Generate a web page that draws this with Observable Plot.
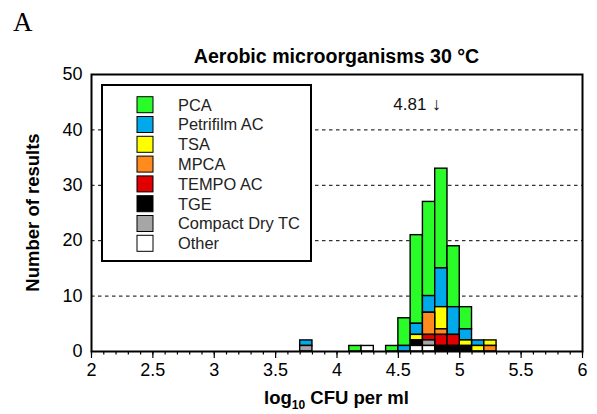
<!DOCTYPE html>
<html>
<head>
<meta charset="utf-8">
<script src="https://cdn.jsdelivr.net/npm/d3@7"></script>
<script src="https://cdn.jsdelivr.net/npm/@observablehq/plot@0.6"></script>
<style>
  html, body { margin: 0; padding: 0; background: #fff; }
  #chart { width: 597px; height: 414px; }
  svg { font-family: "Liberation Sans", Arial, sans-serif; }
</style>
</head>
<body>
<div id="chart"></div>
<script>
// ---- Data (counts per 0.1 log bin, bin start values) ----
const binStarts   = [3.7, 4.1, 4.2, 4.4, 4.5, 4.6, 4.7, 4.8, 4.9, 5.0, 5.1, 5.2];
const binWidth    = 0.1;
const methods     = ["PCA", "Petrifilm AC", "TSA", "MPCA", "TEMPO AC", "TGE", "Compact Dry TC", "Other"];
const methodColors = ["#2afc2a", "#00a9e9", "#ffff00", "#ff8a1e", "#e00000", "#000000", "#a6a6a6", "#ffffff"];
const stackOrder  = ["Other", "Compact Dry TC", "TGE", "TEMPO AC", "MPCA", "TSA", "Petrifilm AC", "PCA"];

const countsPCA       = [0, 1, 0, 1, 5, 16, 17, 18, 11, 4, 0, 0];
const countsPetrifilm = [1, 0, 0, 0, 1, 2, 3, 7, 5, 2, 1, 0];
const countsTSA       = [0, 0, 0, 0, 0, 1, 0, 4, 0, 1, 1, 1];
const countsMPCA      = [0, 0, 0, 0, 0, 0, 4, 1, 0, 0, 0, 1];
const countsTEMPO     = [0, 0, 0, 0, 0, 0, 1, 2, 2, 0, 0, 0];
const countsTGE       = [0, 0, 0, 0, 0, 1, 0, 1, 1, 1, 0, 0];
const countsCompact   = [1, 0, 0, 0, 0, 0, 1, 0, 0, 0, 0, 0];
const countsOther     = [0, 0, 1, 0, 0, 1, 1, 0, 0, 0, 0, 0];

const xMajorTicks = [2, 2.5, 3, 3.5, 4, 4.5, 5, 5.5, 6];
const xMinorTicks = d3.range(20, 61).map(v => v / 10);
const yTicks      = [0, 10, 20, 30, 40, 50];
const gridValues  = [10, 20, 30, 40];
const meanValue   = 4.81;
const meanLabelY  = 44.6;

// ---- Build long table ----
const seriesCounts = {
  "PCA": countsPCA, "Petrifilm AC": countsPetrifilm, "TSA": countsTSA, "MPCA": countsMPCA,
  "TEMPO AC": countsTEMPO, "TGE": countsTGE, "Compact Dry TC": countsCompact, "Other": countsOther
};
const table = [];
for (const m of methods) {
  seriesCounts[m].forEach((c, i) => {
    if (c > 0) table.push({start: binStarts[i], end: +(binStarts[i] + binWidth).toFixed(2), method: m, count: c});
  });
}

const W = 597, H = 414;
const mL = 91, mR = 15, mT = 74, mB = 63;

const svg = Plot.plot({
  width: W, height: H,
  marginLeft: mL, marginRight: mR, marginTop: mT, marginBottom: mB,
  style: {fontFamily: "'Liberation Sans', Arial, sans-serif", background: "#fff", color: "#000"},
  x: {domain: [2, 6], axis: null},
  y: {domain: [0, 50], axis: null},
  color: {domain: methods, range: methodColors},
  marks: [
    Plot.ruleY(gridValues, {stroke: "#000", strokeWidth: 1, strokeDasharray: "3.5,3.5"}),
    Plot.rectY(table, {
      x1: "start", x2: "end", y: "count", z: "method", fill: "method",
      order: stackOrder, stroke: "#000", strokeWidth: 1.4
    }),
    Plot.frame({stroke: "#000", strokeWidth: 2}),
    Plot.axisX({ticks: xMinorTicks, tickSize: 3.5, tickFormat: () => "", strokeWidth: 1.2}),
    Plot.axisX({ticks: xMajorTicks, tickSize: 7, tickPadding: 5, strokeWidth: 1.2,
      tickFormat: d3.format("~g"), fontSize: 18, label: null, color: "#000"}),
    Plot.axisY({ticks: yTicks, tickSize: 0, tickPadding: 9, fontSize: 18, label: null,
      tickFormat: d3.format("d")}),
    Plot.text([meanValue], {x: d => d, y: meanLabelY, text: () => "↓", fontSize: 18, textAnchor: "middle", fill: "#111"}),
    Plot.text([meanValue], {x: d => d, y: meanLabelY, text: d => String(d), dx: -10, fontSize: 17, textAnchor: "end", fill: "#111"})
  ]
});
document.getElementById("chart").appendChild(svg);

// ---- Decorations: titles, axis labels, legend ----
const s = d3.select(svg);
s.append("text").attr("x", 13).attr("y", 31).attr("text-anchor", "start")
  .style("font-family", "'Liberation Serif', 'Times New Roman', serif").style("font-size", "27px")
  .attr("fill", "#000").text("A");

s.append("text").attr("x", (mL + W - mR) / 2).attr("y", 63).attr("text-anchor", "middle")
  .style("font-size", "19.6px").style("font-weight", "bold").attr("fill", "#000")
  .text("Aerobic microorganisms 30 °C");

s.append("text").attr("transform", `translate(39,${(mT + H - mB) / 2}) rotate(-90)`)
  .attr("text-anchor", "middle")
  .style("font-size", "18.5px").style("font-weight", "bold").attr("fill", "#000")
  .text("Number of results");

const xl = s.append("text").attr("x", (mL + W - mR) / 2).attr("y", 404).attr("text-anchor", "middle")
  .style("font-size", "18.5px").style("font-weight", "bold").attr("fill", "#000");
xl.append("tspan").text("log");
xl.append("tspan").attr("dy", 5).style("font-size", "12px").text("10");
xl.append("tspan").attr("dy", -5).text(" CFU per ml");

// Legend box
const lg = s.append("g");
lg.append("rect").attr("x", 102).attr("y", 85).attr("width", 209).attr("height", 176)
  .attr("fill", "#fff").attr("stroke", "#000").attr("stroke-width", 2);
methods.forEach((m, i) => {
  const cy = 104.7 + i * 19.8;
  lg.append("rect").attr("x", 137).attr("y", cy - 8).attr("width", 16).attr("height", 16)
    .attr("fill", methodColors[i]).attr("stroke", "#000").attr("stroke-width", 1);
  lg.append("text").attr("x", 178).attr("y", cy).attr("dy", "0.36em").attr("text-anchor", "start")
    .style("font-size", "16.4px").attr("fill", "#222").text(m);
});
</script>
</body>
</html>
